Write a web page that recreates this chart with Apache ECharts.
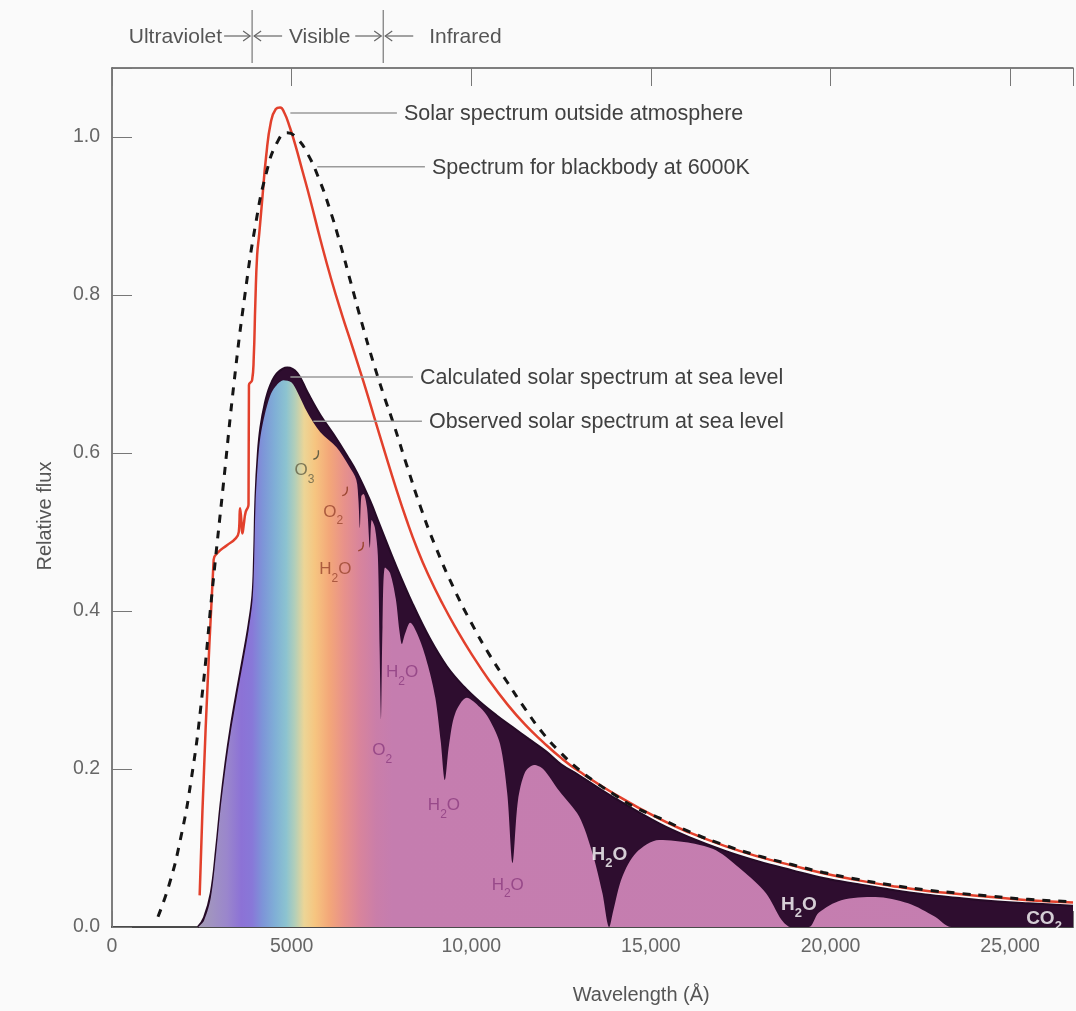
<!DOCTYPE html>
<html>
<head>
<meta charset="utf-8">
<title>Solar spectrum</title>
<script src="https://cdn.jsdelivr.net/npm/echarts@6/dist/echarts.min.js"></script>
<style>
  html, body { margin: 0; padding: 0; background: #fafafa; }
  #chart { width: 1076px; height: 1011px; }
</style>
</head>
<body>
<div id="chart"></div>
<script>
// Wavelength in ångström, flux relative to the 6000 K blackbody peak.
const blackbody6000K = [
  [1280, 0.013], [1600, 0.055], [1900, 0.11], [2200, 0.185], [2500, 0.29], [2800, 0.43],
  [3100, 0.56], [3400, 0.69], [3700, 0.8], [4000, 0.89], [4300, 0.955], [4600, 0.993],
  [4880, 1.005], [5150, 0.998], [5450, 0.978], [5750, 0.948], [6050, 0.91], [6350, 0.865],
  [6650, 0.815], [6950, 0.765], [7250, 0.718], [7550, 0.675], [7850, 0.635], [8200, 0.585],
  [8600, 0.53], [9000, 0.482], [9500, 0.43], [10000, 0.385], [10500, 0.345], [11000, 0.31],
  [11500, 0.276], [12000, 0.245], [12500, 0.22], [13000, 0.199], [13500, 0.182], [14000, 0.167],
  [14500, 0.153], [15230, 0.138], [16100, 0.12], [17090, 0.103], [18000, 0.09], [18920, 0.079],
  [19800, 0.069], [20780, 0.06], [21700, 0.053], [22640, 0.047], [23500, 0.043], [24470, 0.039],
  [25500, 0.035], [26750, 0.032]
];

const solarOutside = [
  [2440, 0.04], [2830, 0.465], [2950, 0.474], [3200, 0.483], [3450, 0.492], [3530, 0.5],
  [3565, 0.53], [3600, 0.515], [3630, 0.498], [3670, 0.51], [3720, 0.525], [3790, 0.532],
  [3800, 0.535], [3812, 0.686], [3900, 0.692], [3945, 0.72], [3990, 0.79], [4040, 0.85],
  [4100, 0.878], [4190, 0.925], [4290, 0.975], [4420, 1.018], [4560, 1.035], [4680, 1.037],
  [4800, 1.03], [4950, 1.012], [5100, 0.99], [5300, 0.957], [5520, 0.92], [5800, 0.87],
  [6100, 0.82], [6400, 0.775], [6700, 0.733], [7000, 0.69], [7300, 0.645], [7600, 0.6],
  [7900, 0.556], [8200, 0.515], [8500, 0.478], [8800, 0.446], [9200, 0.409], [9600, 0.376],
  [10000, 0.346], [10500, 0.312], [11000, 0.282], [11500, 0.256], [12000, 0.234], [12500, 0.214],
  [13000, 0.197], [14000, 0.168], [15230, 0.137], [16100, 0.119], [17090, 0.102], [18000, 0.089],
  [18920, 0.078], [19800, 0.068], [20780, 0.059], [21700, 0.052], [22640, 0.046], [23500, 0.042],
  [24470, 0.038], [25500, 0.034], [26750, 0.031]
];

const seaLevelCalculated = [
  [2390, 0], [2560, 0.012], [2750, 0.043], [2900, 0.1], [3020, 0.155], [3160, 0.208],
  [3300, 0.252], [3480, 0.3], [3660, 0.345], [3800, 0.382], [3910, 0.42], [3955, 0.47],
  [3995, 0.545], [4060, 0.6], [4130, 0.632], [4250, 0.662], [4400, 0.685], [4600, 0.701],
  [4880, 0.708], [5160, 0.701], [5440, 0.677], [5800, 0.648], [6160, 0.624], [6550, 0.596],
  [6820, 0.575], [7180, 0.54], [7460, 0.508], [7900, 0.458], [8380, 0.408], [8850, 0.365],
  [9320, 0.33], [9800, 0.304], [10240, 0.285], [10700, 0.268], [11150, 0.253], [11600, 0.238],
  [12090, 0.222], [12500, 0.206], [13000, 0.192], [14000, 0.163], [15230, 0.131], [16100, 0.113],
  [17090, 0.096], [18000, 0.083], [18920, 0.072], [19800, 0.062], [20780, 0.054], [21700, 0.047],
  [22640, 0.041], [23500, 0.037], [24470, 0.033], [25500, 0.03], [26750, 0.027]
];

const seaLevelObserved = [
  [2395, 0], [2560, 0.008], [2750, 0.037], [2900, 0.094], [3020, 0.149], [3160, 0.201],
  [3300, 0.245], [3480, 0.293], [3660, 0.338], [3800, 0.375], [3910, 0.413], [3955, 0.46],
  [3995, 0.535], [4060, 0.588], [4130, 0.62], [4250, 0.648], [4400, 0.672], [4550, 0.684],
  [4770, 0.692], [5000, 0.689], [5160, 0.677], [5440, 0.651], [5800, 0.626], [6250, 0.607],
  [6600, 0.583], [6800, 0.566], [6860, 0.54], [6900, 0.505], [6940, 0.545], [7000, 0.548],
  [7100, 0.53], [7180, 0.48], [7230, 0.515], [7320, 0.505], [7400, 0.47], [7450, 0.35],
  [7490, 0.262], [7530, 0.38], [7600, 0.455], [7740, 0.448], [7900, 0.415], [8000, 0.375],
  [8070, 0.358], [8150, 0.37], [8300, 0.385], [8570, 0.363], [8800, 0.33], [9000, 0.29],
  [9150, 0.235], [9265, 0.186], [9380, 0.23], [9550, 0.27], [9875, 0.29], [10240, 0.278],
  [10500, 0.263], [10800, 0.232], [11000, 0.17], [11150, 0.081], [11300, 0.16], [11500, 0.196],
  [11750, 0.205], [12000, 0.2], [12450, 0.172], [13000, 0.14], [13370, 0.094], [13650, 0.043],
  [13840, 0], [13950, 0.02], [14200, 0.063], [14590, 0.094], [15230, 0.11], [16140, 0.106],
  [16810, 0.097], [17530, 0.072], [18200, 0.043], [18640, 0.009], [18900, 0], [19400, 0],
  [19670, 0.018], [20300, 0.034], [21250, 0.038], [22160, 0.03], [22910, 0.013], [23360, 0],
  [26750, 0]
];

const xTickValues = [0, 5000, 10000, 15000, 20000, 25000];
const xTickLabels = ['0', '5000', '10,000', '15,000', '20,000', '25,000'];
const yTickValues = [0, 0.2, 0.4, 0.6, 0.8, 1.0];
const yTickLabels = ['0.0', '0.2', '0.4', '0.6', '0.8', '1.0'];

// Band boundaries along the top of the plot (Å)
const bandEdges = [3900, 7550];
const bandNames = ['Ultraviolet', 'Visible', 'Infrared'];

// Call-outs: leader line from a point on a curve, text after its end
const curveNotes = [
  { text: 'Solar spectrum outside atmosphere', from: [4965, 1.03], to: [7930, 1.03] },
  { text: 'Spectrum for blackbody at 6000K', from: [5714, 0.962], to: [8710, 0.962] },
  { text: 'Calculated solar spectrum at sea level', from: [4965, 0.696], to: [8377, 0.696] },
  { text: 'Observed solar spectrum at sea level', from: [5603, 0.64], to: [8627, 0.64] }
];

// Absorbing molecules, "_n" marks a subscript
const absorberNames = ['O_3', 'O_2', 'H_2O', 'H_2O', 'O_2', 'H_2O', 'H_2O', 'H_2O', 'H_2O', 'CO_2'];
const absorberAt = [
  [5355, 0.578], [6160, 0.525], [6215, 0.452], [8074, 0.322], [7520, 0.223],
  [9240, 0.154], [11016, 0.053], [13846, 0.091], [19118, 0.028], [25943, 0.011]
];
const absorberTone = ['olive', 'rust', 'rust', 'plum', 'plum', 'plum', 'plum', 'white', 'white', 'white'];
// small hooks tying the visible-band labels to their dips
const hookAt = [[5716, 0.597], [6520, 0.551], [6964, 0.481]];
const hookTone = ['olive', 'rust', 'rust'];

const FONT = '"Liberation Sans", Arial, Helvetica, sans-serif';
const X_MAX = 26750;
const Y_MAX = 1.087;
const tones = { olive: '#646046', rust: '#9a4630', plum: '#8c3c80', white: '#ffffff' };

// colour of the sea-level band along the wavelength axis
const spectrumColors = [
  [2400, '#a49cb4'], [2800, '#a092c2'], [3200, '#9a86cc'], [3600, '#8c72d6'], [3900, '#8878d8'],
  [4200, '#7d95d8'], [4550, '#80b0d6'], [4850, '#8cc3d0'], [5100, '#b4cfb8'], [5350, '#ecd596'],
  [5650, '#f6c580'], [6050, '#f3a779'], [6450, '#e8928a'], [6900, '#d8849c'], [7350, '#ca7ea9'],
  [7800, '#c57daf'], [26750, '#c57eb0']
];

const obsFirst = seaLevelObserved[0][0];
const obsLast = seaLevelObserved[seaLevelObserved.length - 1][0];
const spectrumGradient = {
  type: 'linear', x: 0, y: 0, x2: 1, y2: 0,
  colorStops: spectrumColors.map(([w, c]) => ({ offset: (w - obsFirst) / (obsLast - obsFirst), color: c }))
};

function richFormula(f) {
  return f.replace(/_(\d)/g, '{s|$1}');
}

function tickLabel(values, labels) {
  return function (v) {
    for (let i = 0; i < values.length; i++) {
      if (Math.abs(v - values[i]) < 1e-6) return labels[i];
    }
    return '';
  };
}

const chart = echarts.init(document.getElementById('chart'));

const absorberData = absorberNames.map((name, i) => {
  const tone = absorberTone[i];
  const bold = tone === 'white';
  return {
    value: absorberAt[i],
    formula: name,
    label: {
      color: tones[tone],
      fontWeight: bold ? 'bold' : 'normal',
      fontSize: bold ? 19 : 17,
      rich: {
        s: {
          fontSize: bold ? 13 : 12,
          fontWeight: bold ? 'bold' : 'normal',
          color: tones[tone],
          fontFamily: FONT,
          verticalAlign: 'bottom',
          lineHeight: 13,
          padding: [0, 0, -4, 0]
        }
      }
    }
  };
});

chart.setOption({
  backgroundColor: '#fafafa',
  animation: false,
  grid: { left: 112, right: 0, top: 68, bottom: 84 },
  xAxis: [
    {
      type: 'value', min: 0, max: X_MAX, interval: 5000,
      axisLine: { lineStyle: { color: '#4a4a4a', width: 2 } },
      axisTick: { inside: true, length: 16, lineStyle: { color: '#777', width: 1 } },
      axisLabel: { fontFamily: FONT, fontSize: 19.5, color: '#666', margin: 10,
                   formatter: tickLabel(xTickValues, xTickLabels) },
      splitLine: { show: false }
    },
    {
      type: 'value', position: 'top', min: 0, max: X_MAX, interval: 5000,
      axisLine: { lineStyle: { color: '#555', width: 1.5 } },
      axisTick: { inside: true, length: 18, lineStyle: { color: '#777', width: 1 } },
      axisLabel: { show: false },
      splitLine: { show: false }
    }
  ],
  yAxis: {
    type: 'value', min: 0, max: Y_MAX, interval: 0.2,
    axisLine: { show: true, lineStyle: { color: '#555', width: 1.5 } },
    axisTick: { show: true, inside: true, length: 20, lineStyle: { color: '#777', width: 1 } },
    axisLabel: { fontFamily: FONT, fontSize: 19.5, color: '#666', margin: 12,
                 formatter: tickLabel(yTickValues, yTickLabels) },
    splitLine: { show: false }
  },
  series: [
    {
      name: 'Calculated solar spectrum at sea level', type: 'line', data: seaLevelCalculated,
      showSymbol: false, smooth: 0.4, z: 2,
      lineStyle: { color: '#250a26', width: 2 },
      areaStyle: { color: '#2e0d2f', opacity: 1 }
    },
    {
      name: 'Observed solar spectrum at sea level', type: 'line', data: seaLevelObserved,
      showSymbol: false, smooth: 0.3, z: 3,
      lineStyle: { opacity: 0 },
      areaStyle: { color: spectrumGradient, opacity: 1 }
    },
    {
      name: 'Solar spectrum outside atmosphere', type: 'line', data: solarOutside,
      showSymbol: false, smooth: 0.5, z: 4,
      lineStyle: { color: '#e2402c', width: 2.5 }
    },
    {
      name: 'Spectrum for blackbody at 6000K', type: 'line', data: blackbody6000K,
      showSymbol: false, smooth: 0.5, z: 5,
      lineStyle: { color: '#151515', width: 3, type: [8, 8] }
    },
    {
      name: 'Absorbers', type: 'scatter', data: absorberData, z: 6,
      symbolSize: 1, itemStyle: { color: 'rgba(0,0,0,0)' },
      label: {
        show: true, position: 'inside', fontFamily: FONT, lineHeight: 22,
        formatter: p => richFormula(p.data.formula)
      }
    }
  ]
});

// Overlay drawn in data space through the chart's own scales
function px(p) { return chart.convertToPixel({ xAxisIndex: 0, yAxisIndex: 0 }, p); }

const overlay = [];
const GUIDE = '#9a9a9a';
const noteFont = '21.5px ' + FONT;

curveNotes.forEach(n => {
  const a = px(n.from), b = px(n.to);
  overlay.push({ type: 'line', z: 100, shape: { x1: a[0], y1: a[1], x2: b[0], y2: a[1] },
                 style: { stroke: GUIDE, lineWidth: 1.5 } });
  overlay.push({ type: 'text', z: 100, x: b[0] + 7, y: a[1] + 1,
                 style: { text: n.text, fill: '#404040', font: noteFont,
                          textAlign: 'left', textVerticalAlign: 'middle' } });
});

hookAt.forEach((h, i) => {
  const p = px(h);
  overlay.push({ type: 'bezierCurve', z: 100,
                 shape: { x1: p[0] + 1, y1: p[1] - 5, cpx1: p[0] + 2, cpy1: p[1] + 3, x2: p[0] - 4, y2: p[1] + 4 },
                 style: { stroke: tones[hookTone[i]], lineWidth: 1.4, fill: null } });
});

// band header: Ultraviolet ->|<- Visible ->|<- Infrared
const yH = 36;
const edges = bandEdges.map(w => px([w, 0])[0]);
const HEAD = '#666';
edges.forEach(e => {
  overlay.push({ type: 'line', z: 100, shape: { x1: e, y1: 10, x2: e, y2: 63 }, style: { stroke: '#777', lineWidth: 1.2 } });
  overlay.push({ type: 'line', z: 100, shape: { x1: e - 28, y1: yH, x2: e - 2, y2: yH }, style: { stroke: HEAD, lineWidth: 1.2 } });
  overlay.push({ type: 'polyline', z: 100, shape: { points: [[e - 9, yH - 5], [e - 2, yH], [e - 9, yH + 5]] }, style: { stroke: HEAD, lineWidth: 1.2, fill: null } });
  overlay.push({ type: 'line', z: 100, shape: { x1: e + 2, y1: yH, x2: e + 30, y2: yH }, style: { stroke: HEAD, lineWidth: 1.2 } });
  overlay.push({ type: 'polyline', z: 100, shape: { points: [[e + 9, yH - 5], [e + 2, yH], [e + 9, yH + 5]] }, style: { stroke: HEAD, lineWidth: 1.2, fill: null } });
});
const headerFont = '21px ' + FONT;
overlay.push({ type: 'text', z: 100, x: edges[0] - 30, y: yH + 1,
               style: { text: bandNames[0], fill: '#555', font: headerFont, textAlign: 'right', textVerticalAlign: 'middle' } });
overlay.push({ type: 'text', z: 100, x: (edges[0] + edges[1]) / 2 + 2, y: yH + 1,
               style: { text: bandNames[1], fill: '#555', font: headerFont, textAlign: 'center', textVerticalAlign: 'middle' } });
overlay.push({ type: 'text', z: 100, x: edges[1] + 46, y: yH + 1,
               style: { text: bandNames[2], fill: '#555', font: headerFont, textAlign: 'left', textVerticalAlign: 'middle' } });

// axis titles
const axisBase = px([0, 0]);
overlay.push({ type: 'text', z: 100, x: px([14730, 0])[0], y: axisBase[1] + 68,
               style: { text: 'Wavelength (Å)', fill: '#555', font: '20px ' + FONT,
                        textAlign: 'center', textVerticalAlign: 'middle' } });
const yMid = px([0, 0.52])[1];
overlay.push({ type: 'text', z: 100, x: 45, y: yMid, rotation: Math.PI / 2,
               style: { text: 'Relative flux', fill: '#555', font: '20px ' + FONT,
                        textAlign: 'center', textVerticalAlign: 'middle' } });

chart.setOption({ graphic: { elements: overlay } });
</script>
</body>
</html>
